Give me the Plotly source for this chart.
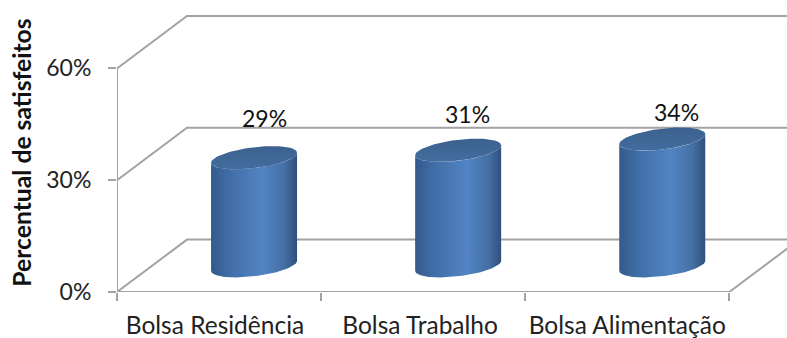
import numpy as np
import plotly.graph_objects as go

categories = ["Bolsa Residência", "Bolsa Trabalho", "Bolsa Alimentação"]
satisfied = [29, 31, 34]
value_labels = ["29%", "31%", "34%"]
y_ticks = [0, 30, 60]
y_tick_labels = ["0%", "30%", "60%"]
label_shift_x = [10, 9, 14]
label_shift_y = [40, 36, 27]

W, H = 787, 338
LEFT, BOTTOM = 117, 45.5
PX_X = 204.1   # pixels per category
PX_Y = 3.733   # pixels per percent
DEPTH_X = 70 / PX_X
DEPTH_Y = 52.5 / PX_Y
RADIUS_X = 43 / PX_X
RADIUS_Y = 10.5 / PX_Y
TILT = 5 / PX_Y
GRID = "#a3a3a3"
FONT = "Lato"
SIDE = [[0, "#34598c"], [0.18, "#3f6ba3"], [0.6, "#5284c4"], [0.85, "#456fa6"], [1, "#30507c"]]
TOP = [[0, "#426d9e"], [1, "#3c618f"]]

fig = go.Figure()


def line(x, y):
    fig.add_trace(go.Scatter(x=x, y=y, mode="lines", hoverinfo="skip",
                             line=dict(color=GRID, width=2)))


x_max = (W - LEFT) / PX_X
y_max = (H - BOTTOM) / PX_Y

# walls and floor
for v in y_ticks:
    line([0, DEPTH_X, x_max], [v, v + DEPTH_Y, v + DEPTH_Y])
line([0, 0], [0, y_ticks[-1]])
line([0, 3, 3 + DEPTH_X], [0, 0, DEPTH_Y])

# cylinders
for i, v in enumerate(satisfied):
    cx = i + 0.5 + DEPTH_X / 2
    base = DEPTH_Y / 2
    top = base + v
    t_low = np.linspace(np.pi, 2 * np.pi, 50)
    bx = cx + RADIUS_X * np.cos(t_low)
    by = base + TILT * np.cos(t_low) + RADIUS_Y * np.sin(t_low)
    ty = top + TILT * np.cos(t_low) + RADIUS_Y * np.sin(t_low)
    fig.add_trace(go.Scatter(
        x=np.r_[bx, bx[::-1], bx[0]], y=np.r_[by, ty[::-1], by[0]],
        mode="lines", fill="toself", line=dict(width=0), hoverinfo="skip",
        fillgradient=dict(type="horizontal", colorscale=SIDE)))
    t = np.linspace(0, 2 * np.pi, 100)
    fig.add_trace(go.Scatter(
        x=cx + RADIUS_X * np.cos(t),
        y=top + TILT * np.cos(t) + RADIUS_Y * np.sin(t),
        mode="lines", fill="toself", line=dict(width=0), hoverinfo="skip",
        fillgradient=dict(type="vertical", colorscale=TOP)))
    fig.add_annotation(x=cx, y=top, text=value_labels[i], showarrow=False,
                       xshift=label_shift_x[i], yshift=label_shift_y[i],
                       font=dict(family=FONT, size=23, color="#111111"))

fig.add_annotation(xref="paper", yref="paper", x=0, y=0.477, xanchor="center",
                   yanchor="middle", xshift=-95, textangle=-90, showarrow=False,
                   text="<b>Percentual de satisfeitos</b>",
                   font=dict(family=FONT, size=24.7, color="#111111"))

fig.update_layout(
    width=W, height=H, showlegend=False,
    margin=dict(l=LEFT, r=0, t=0, b=BOTTOM, pad=0),
    paper_bgcolor="white", plot_bgcolor="white",
    xaxis=dict(range=[0, x_max], tickvals=[0.48, 1.485, 2.5], ticktext=categories,
               ticks="", showgrid=False, zeroline=False, showline=False,
               automargin=False, ticklabeloverflow="allow",
               tickfont=dict(family=FONT, size=24.5, color="#222222"),
               ticklabelstandoff=16,
               minor=dict(tickvals=[0, 1, 2, 3], ticks="outside", ticklen=8,
                          tickwidth=2, tickcolor=GRID, showgrid=False)),
    yaxis=dict(range=[0, y_max], tickvals=y_ticks, ticktext=y_tick_labels,
               ticks="outside", ticklen=8, tickwidth=2, tickcolor=GRID,
               showgrid=False, zeroline=False, showline=False,
               automargin=False,
               tickfont=dict(family=FONT, size=23, color="#222222"),
               ticklabelstandoff=12),
)

fig.write_html("out.html", post_script="document.body.style.margin='0';",
               config={"displayModeBar": False})
